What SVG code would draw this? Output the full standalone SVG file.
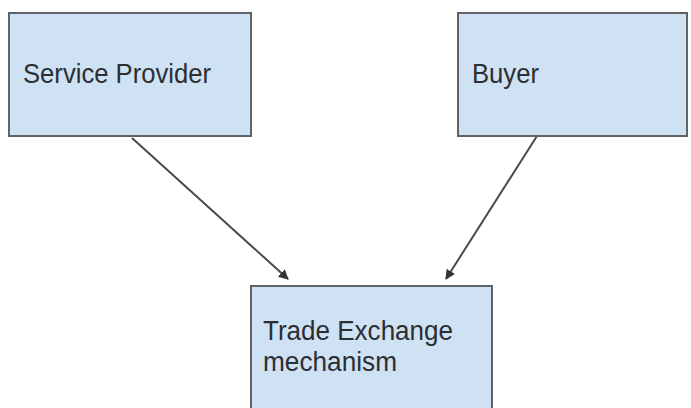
<svg xmlns="http://www.w3.org/2000/svg" width="691" height="408" viewBox="0 0 691 408">
<defs>
<style>
.box{fill:#cfe2f3;stroke:#5f6368;stroke-width:2}
.lbl{font-family:"Liberation Sans",Arial,sans-serif;font-size:27px;fill:#2b2f33}
.con{stroke:#4a4a4a;stroke-width:2;fill:none;marker-end:url(#ah)}
</style>
<marker id="ah" viewBox="0 0 10 10" refX="9" refY="5" markerWidth="5" markerHeight="5" orient="auto" markerUnits="strokeWidth">
<path d="M0,0 L10,5 L0,10 z" fill="#333"/>
</marker>
</defs>
<rect width="691" height="408" fill="#ffffff"/>
<g id="connectors">
<line class="con" x1="132" y1="138" x2="288" y2="279"/>
<line class="con" x1="537" y1="136" x2="446" y2="279"/>
</g>
<g id="service-provider">
<rect class="box" x="9" y="13" width="242" height="123"/>
<text class="lbl" x="23" y="83" textLength="188" lengthAdjust="spacingAndGlyphs">Service Provider</text>
</g>
<g id="buyer">
<rect class="box" x="458" y="13" width="229" height="123"/>
<text class="lbl" x="472" y="83" textLength="67" lengthAdjust="spacingAndGlyphs">Buyer</text>
</g>
<g id="trade-exchange">
<rect class="box" x="251" y="286" width="241" height="124"/>
<text class="lbl" x="263" y="340" textLength="190" lengthAdjust="spacingAndGlyphs">Trade Exchange</text>
<text class="lbl" x="263" y="371" textLength="134" lengthAdjust="spacingAndGlyphs">mechanism</text>
</g>
</svg>
